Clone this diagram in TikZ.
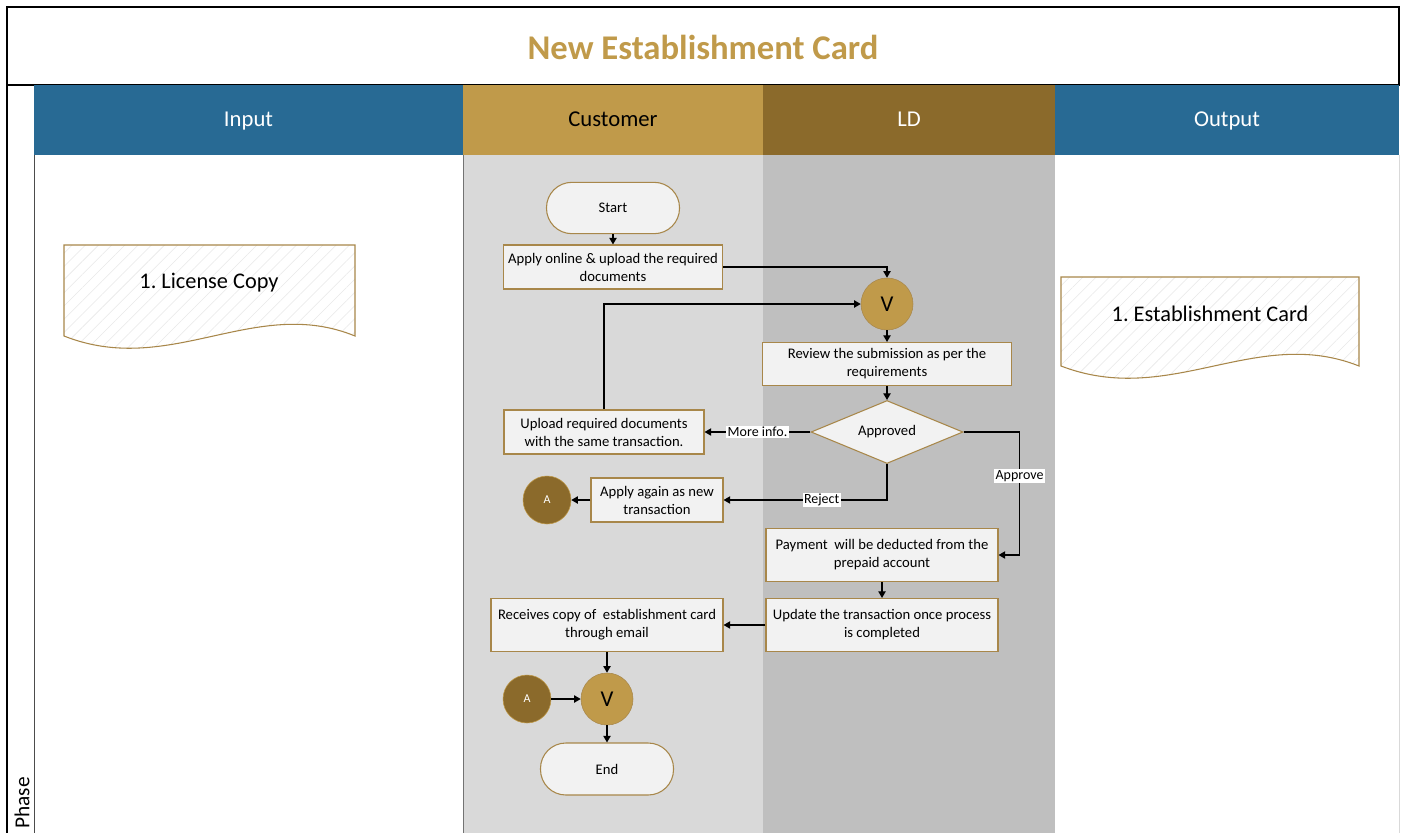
\documentclass[tikz,border=0pt]{standalone}
\usepackage{fontspec}
\setmainfont{Carlito}
\usepackage{tikz}
\usetikzlibrary{calc,shapes.geometric,arrows.meta,patterns.meta}
\frenchspacing

\definecolor{hdrblue}{HTML}{286A94}
\definecolor{gold}{HTML}{C09A4A}
\definecolor{darkgold}{HTML}{8B6A2B}
\definecolor{lanelight}{HTML}{D9D9D9}
\definecolor{lanedark}{HTML}{BFBFBF}
\definecolor{boxline}{HTML}{A8874A}
\definecolor{boxfill}{HTML}{F2F2F2}

\begin{document}
\begin{tikzpicture}[x=0.75pt,y=-0.75pt,>={Triangle[length=5pt,width=5.5pt]},
    hdr/.style={rectangle, minimum height=52.5pt, inner sep=0pt, text height=12.5pt, text depth=2.75pt,
      font=\fontsize{17}{20}\selectfont},
    task/.style={rectangle, draw=boxline, line width=0.8pt, fill=boxfill, align=center,
      inner sep=2pt, font=\fontsize{11}{13.5}\selectfont},
    term/.style={task, rounded corners=19pt, minimum width=99.75pt, minimum height=38.5pt},
    decision/.style={task, diamond, aspect=2.4, inner sep=0pt, minimum width=114pt, minimum height=47.25pt},
    gate/.style={circle, draw=boxline, fill=gold, minimum size=39pt, inner sep=0pt,
      font=\fontsize{17}{19}\selectfont},
    link/.style={circle, draw=gold, fill=darkgold, text=white, minimum size=36pt, inner sep=0pt,
      font=\fontsize{9}{10}\selectfont},
    doc/.style={draw=boxline, line width=0.8pt, preaction={fill=white},
      pattern={Lines[angle=45,distance=7pt,line width=0.4pt]}, pattern color=black!9},
    lbl/.style={fill=white, inner sep=1pt, font=\fontsize{10.5}{12}\selectfont},
    flow/.style={->, line width=1pt}]
  \useasboundingbox (0,0) rectangle (1405,832);
  \fill[lanelight] (463,155) rectangle (763,845);
  \fill[lanedark] (763,155) rectangle (1055,845);
  \draw[black!55, line width=0.5pt] (463,155) -- (463,845);
  \draw[black!15, line width=0.5pt] (1399,155) -- (1399,845);
  \draw[line width=0.8pt] (7,7) rectangle (1399,85);
  \draw[line width=0.8pt] (7,85) -- (7,845);
  \draw[black!70, line width=0.6pt] (34,85) -- (34,845);
  \node[font=\fontsize{26}{30}\selectfont\bfseries, text=gold] (title) at (703,47) {New Establishment Card};
  \node[rotate=90, font=\fontsize{16}{19}\selectfont, inner sep=1pt] (phase) at (22,803) {Phase};
  \node[hdr, fill=hdrblue, text=white, minimum width=321.75pt] (input) at (248.5,120) {Input};
  \node[hdr, fill=gold, minimum width=225pt] (cust) at (613,120) {Customer};
  \node[hdr, fill=darkgold, text=white, minimum width=219pt] (ld) at (909,120) {LD};
  \node[hdr, fill=hdrblue, text=white, minimum width=258pt] (output) at (1227,120) {Output};

  \draw[doc] (64,245) -- (355,245) -- (355,336) .. controls (255,295) and (170,378) .. (64,336) -- cycle;
  \node[font=\fontsize{16.75}{19}\selectfont] (lic) at (209,283) {1. License Copy};
  \draw[doc] (1061,277) -- (1359,277) -- (1359,366) .. controls (1256,325) and (1170,408) .. (1061,366) -- cycle;
  \node[font=\fontsize{16.75}{19}\selectfont] (card) at (1210,314) {1. Establishment Card};

  \node[term] (start) at (613,208) {Start};
  \node[task, minimum width=164.25pt, minimum height=33pt] (apply) at (613,267) {Apply online \& upload the required\\documents};
  \node[gate] (v1) at (887,304) {V};
  \node[task, minimum width=186.75pt, minimum height=32.25pt] (review) at (887,364) {Review the submission as per the\\requirements};
  \node[decision] (dec) at (887,432) {Approved};
  \node[task, minimum width=150pt, minimum height=33pt] (upload) at (604,432) {Upload required documents\\with the same transaction.};
  \node[task, minimum width=99pt, minimum height=33pt] (again) at (657,500) {Apply again as new\\transaction};
  \node[link] (a1) at (547,500) {A};
  \node[task, minimum width=174pt, minimum height=39.75pt] (pay) at (882,555) {Payment~ will be deducted from the\\prepaid account};
  \node[task, minimum width=174pt, minimum height=39.75pt] (upd) at (882,625) {Update the transaction once process\\is completed};
  \node[task, minimum width=174pt, minimum height=39.75pt] (recv) at (607,625) {Receives copy of~ establishment card\\through email};
  \node[gate] (v2) at (607,699) {V};
  \node[link] (a2) at (527,699) {A};
  \node[term, minimum height=39pt] (fin) at (607,769) {End};

  \draw[flow] (start) -- (apply);
  \draw[flow] (apply.east) -| (v1.north);
  \draw[flow] (upload.north) |- (v1.west);
  \draw[flow] (v1) -- (review);
  \draw[flow] (review) -- (dec);
  \draw[flow] (dec.west) -- node[lbl] {More info.} (upload.east);
  \draw[flow] (dec.south) |- node[lbl, pos=0.7] {Reject} (again.east);
  \draw[flow] (dec.east) -- ++(56,0) |- node[lbl, pos=0.18] {Approve} (pay.east);
  \draw[flow] (again) -- (a1);
  \draw[flow] (pay) -- (upd);
  \draw[flow] (upd) -- (recv);
  \draw[flow] (recv) -- (v2);
  \draw[flow] (a2) -- (v2);
  \draw[flow] (v2) -- (fin);
\end{tikzpicture}
\end{document}
